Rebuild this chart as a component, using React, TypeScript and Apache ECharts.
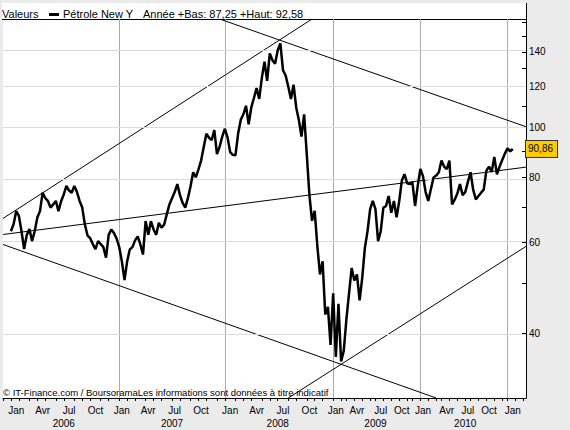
import React, { useEffect, useRef } from "react";
import * as echarts from "echarts";

// ---------- data ----------
const DAY = 86400000;
const MONTHS_FR = ["Jan", "Fév", "Mar", "Avr", "Mai", "Jun", "Jul", "Aoû", "Sep", "Oct", "Nov", "Déc"];

// Price samples (Pétrole New York, USD)
const price2006 = [63.0, 65, 68.9, 67.5, 63, 58.2, 62, 63.6, 60.3, 63,
  67, 68.9, 74.8, 73, 72.1, 70, 71, 72.1, 68.9, 72,
  74.2, 77.1, 75.5, 74.8, 77.1, 75, 72.1, 70, 64.9, 61.8,
  61.1, 59.5, 58.2, 60.3, 59.5, 58.7, 56, 62, 63.5, 62.5, 61];
const price2007 = [58.7, 55.1, 50.7, 55.1, 58.1, 58.7, 60.5, 61.6, 59.4, 56.8,
  65.9, 62, 65.9, 63.5, 62, 65.4, 64, 64.9, 67.9, 71,
  73, 75, 77.7, 74, 71.5, 70, 73, 77, 81.9, 80.1,
  83, 86.3, 91.7, 97.2, 95.5, 94.5, 98.8, 88.8, 91.7, 96, 99.4];
const price2008 = [95.7, 89.6, 88.5, 88.3, 97.2, 103.4, 106, 110.1, 101.4, 109.3,
  114, 119.2, 113.5, 124.7, 134, 123, 139, 134.9, 132.8, 141,
  145.3, 129, 126, 120, 113.5, 120.9, 109.3, 103.4, 96, 106,
  88.8, 74, 66, 69, 59, 52, 55.1, 43.5, 45, 38];
const price2009 = [47.8, 36, 45.6, 35.3, 37, 42.5, 47.8, 53.5, 50.6, 52,
  46.3, 51.2, 58.5, 63, 69.5, 72.1, 69.5, 60.3, 63, 70,
  70.5, 73.7, 68.4, 72.1, 67, 72, 79, 81.2, 78, 77.7,
  78.3, 70.5, 77, 83.1];
const price2010 = [80.5, 75, 72.1, 76, 80, 80.7, 81.9, 86.3, 84, 83.1,
  86.3, 71, 72.5, 74.5, 77.7, 74, 75, 78.5, 81.9, 75.8,
  72.6, 73.7, 74.8, 75.8, 82.5, 84, 82, 87.7, 81.2, 84,
  86.5, 89, 91.1];
const price2011 = [89.9, 90.86];
const priceFirstDate = "2006-01-01";

const lastValue = 90.86;
const lastValueText = "90,86";

const yTickValues = [40, 50, 60, 70, 80, 90, 100, 110, 120, 130, 140, 150, 160];
const yLabelValues = [40, 60, 80, 100, 120, 140];
const yMin = 30;
const yMax = 162;

// Trend lines: [category index, value] endpoints
const trendLines = [
  { from: [0, 66.7], to: [117, 162] },
  { from: [82, 162], to: [198, 100.3] },
  { from: [0, 59.4], to: [164, 30] },
  { from: [108, 30], to: [198, 58.9] },
  { from: [0, 62.1], to: [198, 83.8] },
];

const legendLabel = "Valeurs";
const seriesName = "Pétrole New Y";
const yearLow = "87,25";
const yearHigh = "92,58";
const copyrightText = "© IT-Finance.com / BoursoramaLes informations sont données à titre indicatif";

// ---------- categories (session sampling) ----------
function buildDates(start: string, step: number, endExcl: string): number[] {
  const out: number[] = [];
  const s = Date.parse(start + "T00:00:00Z");
  const e = Date.parse(endExcl + "T00:00:00Z");
  for (let t = s; t < e; t += step * DAY) out.push(t);
  return out;
}
const catTimes = [
  ...buildDates("2005-12-05", 9, "2009-01-01"),
  ...buildDates("2009-01-01", 11, "2011-03-20"),
];
const fmt = (t: number) => new Date(t).toISOString().slice(0, 10);
const cats = catTimes.map(fmt);

function nearestIdx(t: number): number {
  let best = 0;
  let bd = Infinity;
  catTimes.forEach((c, i) => {
    const d = Math.abs(c - t);
    if (d < bd) { bd = d; best = i; }
  });
  return best;
}

const first = catTimes[0];
const last = catTimes[catTimes.length - 1];
const monthTicks = new Set<number>();
const quarterLabels = new Map<string, string>();
const yearLabels = new Map<string, string>();
const janLines = new Set<number>();
for (let y = 2005; y <= 2011; y++) {
  for (let m = 0; m < 12; m++) {
    const t = Date.UTC(y, m, 1);
    if (t >= first - 5 * DAY && t <= last + 5 * DAY) monthTicks.add(nearestIdx(t));
    if (m % 3 === 0) {
      const tm = Date.UTC(y, m, 15);
      if (tm >= first && tm <= last) quarterLabels.set(cats[nearestIdx(tm)], MONTHS_FR[m]);
    }
  }
  if (y >= 2006 && y <= 2010) yearLabels.set(cats[nearestIdx(Date.UTC(y, 6, 1))], String(y));
  if (y >= 2007 && y <= 2011) janLines.add(nearestIdx(Date.UTC(y, 0, 1)));
}

const allPrices = [...price2006, ...price2007, ...price2008, ...price2009, ...price2010, ...price2011];
const priceStart = cats.indexOf(priceFirstDate);
const priceData = cats.map((_, i) => {
  const k = i - priceStart;
  return k >= 0 && k < allPrices.length ? Math.log10(allPrices[k]) : null;
});

const L = Math.log10;

export default function App() {
  const ref = useRef<HTMLDivElement>(null);
  useEffect(() => {
    if (!ref.current) return;
    const chart = echarts.init(ref.current, undefined, { renderer: "svg" });
    const font = "Liberation Sans";
    const option: any = {
      animation: false,
      backgroundColor: "#ebebeb",
      textStyle: { fontFamily: font },
      grid: { left: 3, right: 44, top: 19, bottom: 32, show: true, backgroundColor: "#ffffff", borderWidth: 0 },
      xAxis: [
        {
          type: "category", data: cats, boundaryGap: false, position: "bottom",
          axisLine: { show: true, onZero: false, lineStyle: { color: "#000", width: 1 } },
          axisTick: { show: true, interval: (i: number) => monthTicks.has(i), length: 3, lineStyle: { color: "#000" } },
          axisLabel: {
            show: true, interval: (_i: number, v: string) => quarterLabels.has(v),
            formatter: (v: string) => quarterLabels.get(v) ?? "",
            fontSize: 10, color: "#000", margin: 7, fontFamily: font,
          },
          splitLine: { show: true, interval: (i: number) => janLines.has(i), lineStyle: { color: "#aaaaaa", width: 1 } },
        },
        {
          type: "category", data: cats, boundaryGap: false, position: "bottom", offset: 13,
          axisLine: { show: false }, axisTick: { show: false }, splitLine: { show: false },
          axisLabel: {
            show: true, interval: (_i: number, v: string) => yearLabels.has(v),
            formatter: (v: string) => yearLabels.get(v) ?? "",
            fontSize: 10, color: "#000", margin: 7, fontFamily: font,
          },
        },
      ],
      yAxis: [
        {
          type: "value", position: "right", min: L(yMin), max: L(yMax),
          axisLine: { show: true, onZero: false, lineStyle: { color: "#000", width: 1 } },
          axisTick: { show: true, inside: true, length: 4, customValues: yTickValues.map(L), lineStyle: { color: "#000" } },
          axisLabel: {
            show: true, customValues: yLabelValues.map(L),
            formatter: (v: number) => String(Math.round(Math.pow(10, v))),
            fontSize: 10, color: "#000", margin: 3, fontFamily: font,
          },
          splitLine: { show: false },
        },
        {
          type: "value", position: "right", min: L(yMin), max: L(yMax),
          axisLine: { show: false }, axisTick: { show: false }, splitLine: { show: false },
          axisLabel: {
            show: true, customValues: [L(lastValue)], formatter: () => lastValueText,
            backgroundColor: "#ffcc00", borderColor: "#333", borderWidth: 1,
            padding: [3, 4, 3, 2], margin: 0, fontSize: 10, color: "#000", fontFamily: font,
          },
        },
      ],
      graphic: [
        { type: "rect", shape: { x: 2, y: 3, width: 524, height: 16 }, style: { fill: "#ffffff" }, silent: true },
        { type: "text", x: 2, y: 13.5, style: { text: legendLabel, fill: "#000", fontSize: 11, fontFamily: font, verticalAlign: "middle" } },
        { type: "rect", shape: { x: 49, y: 13, width: 10, height: 3 }, style: { fill: "#000" } },
        { type: "text", x: 63, y: 13.5, style: { text: seriesName, fill: "#000", fontSize: 11, fontFamily: font, verticalAlign: "middle" } },
        { type: "text", x: 143, y: 13.5, style: { text: `Année +Bas: ${yearLow} +Haut: ${yearHigh}`, fill: "#000", fontSize: 11, fontFamily: font, verticalAlign: "middle" } },
        { type: "line", shape: { x1: 2, y1: 19.5, x2: 526, y2: 19.5 }, style: { stroke: "#000", lineWidth: 1 } },
        { type: "line", shape: { x1: 526.5, y1: 3, x2: 526.5, y2: 20 }, style: { stroke: "#000", lineWidth: 1 } },
        { type: "text", x: 3, y: 392, z: 10, style: { text: copyrightText, fill: "#000", fontSize: 9.5, fontFamily: font, verticalAlign: "middle" } },
      ],
      series: [
        ...trendLines.map((t, k) => ({
          type: "line",
          data: [[cats[t.from[0]], L(t.from[1])], [cats[t.to[0]], L(t.to[1])]],
          symbol: "none", silent: true, z: 3,
          lineStyle: { color: "#000", width: 1 },
          markLine: k === 0 ? {
            silent: true, symbol: ["none", "none"], label: { show: false },
            lineStyle: { color: "#dcdcdc", type: "solid", width: 1 },
            data: yLabelValues.map((v) => ({ yAxis: L(v) })),
          } : undefined,
        })),
        {
          type: "line", name: seriesName, data: priceData, symbol: "none", z: 5,
          lineStyle: { color: "#000", width: 2.5 },
        },
      ],
    };
    chart.setOption(option);
    return () => chart.dispose();
  }, []);
  return <div ref={ref} style={{ position: "fixed", left: 0, top: 0, width: 570, height: 430 }} />;
}
